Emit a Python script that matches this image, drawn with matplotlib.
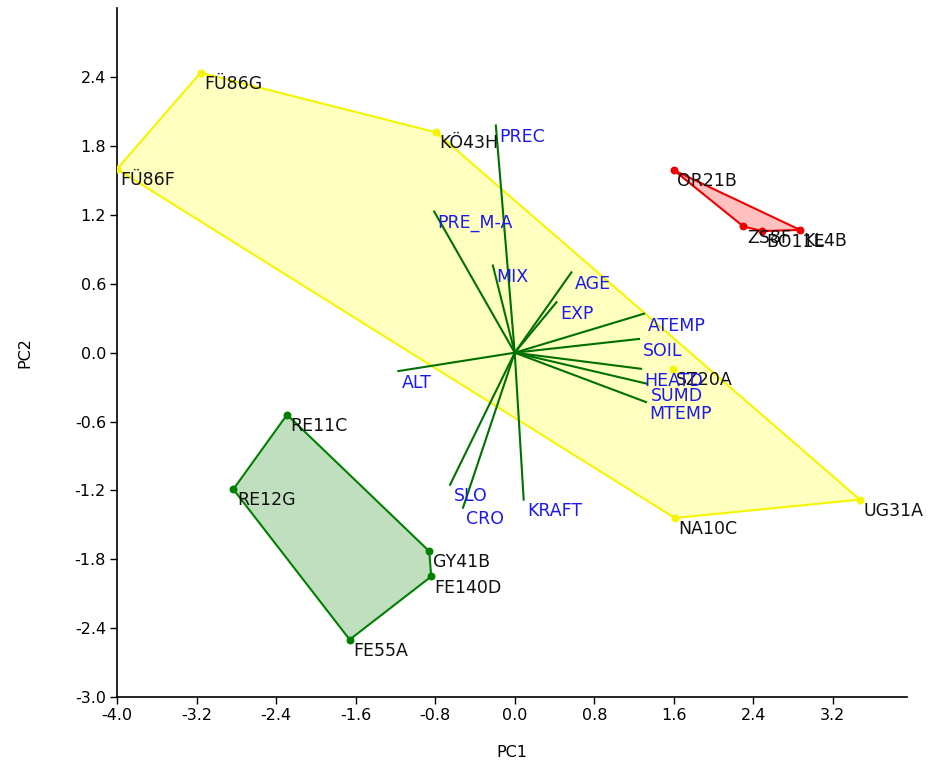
import numpy as np
import matplotlib
matplotlib.use("Agg")
import matplotlib.pyplot as plt
from matplotlib.patches import Polygon

# ---------------- data: sample scores ----------------
yellow_names = ["FÜ86F", "FÜ86G", "KÖ43H", "UG31A", "NA10C", "SZ20A"]
yellow_x = [-4.00, -3.16, -0.79, 3.47, 1.61, 1.59]
yellow_y = [1.60, 2.44, 1.92, -1.28, -1.44, -0.14]
yellow_hull = [0, 1, 2, 3, 4]

red_names = ["OR21B", "KL4B", "BO11E", "ZS8F"]
red_x = [1.60, 2.87, 2.49, 2.30]
red_y = [1.59, 1.07, 1.06, 1.10]
red_hull = [0, 1, 2, 3]

green_names = ["RE11C", "GY41B", "FE140D", "FE55A", "RE12G"]
green_x = [-2.29, -0.86, -0.84, -1.66, -2.83]
green_y = [-0.54, -1.73, -1.95, -2.50, -1.19]
green_hull = [0, 1, 2, 3, 4]

# ---------------- data: variable loadings ----------------
var_names = ["PREC", "PRE_M-A", "MIX", "AGE", "EXP", "ATEMP", "SOIL", "HEATD",
             "SUMD", "MTEMP", "ALT", "SLO", "CRO", "KRAFT"]
var_x = [-0.19, -0.81, -0.22, 0.57, 0.42, 1.30, 1.25, 1.27, 1.33, 1.32,
         -1.17, -0.65, -0.52, 0.09]
var_y = [1.98, 1.23, 0.76, 0.70, 0.44, 0.34, 0.12, -0.14, -0.27, -0.43,
         -0.16, -1.15, -1.35, -1.28]

xticks = [-4.0, -3.2, -2.4, -1.6, -0.8, 0.0, 0.8, 1.6, 2.4, 3.2]
yticks = [-3.0, -2.4, -1.8, -1.2, -0.6, 0.0, 0.6, 1.2, 1.8, 2.4]

fig = plt.figure(figsize=(9.3, 7.6), dpi=100)
ax = fig.add_axes([0.1258, 0.0829, 0.850, 0.906])


def group(names, xs, ys, hull, edge, fill):
    pts = [(xs[i], ys[i]) for i in hull]
    ax.add_patch(Polygon(pts, closed=True, facecolor=fill, edgecolor=edge,
                         lw=1.5, zorder=1))
    ax.scatter(xs, ys, s=22, color=edge, zorder=4)
    for n, x, y in zip(names, xs, ys):
        ax.annotate(n, (x, y), xytext=(2.5, -8), textcoords="offset points",
                    ha="left", va="center", fontsize=12.5, color="#111111",
                    zorder=5)


group(yellow_names, yellow_x, yellow_y, yellow_hull, "#f5f500", "#ffffbf")
group(red_names, red_x, red_y, red_hull, "#ee0000", "#ffc0c0")
group(green_names, green_x, green_y, green_hull, "#008000", "#bfdfbf")

# loadings
for n, x, y in zip(var_names, var_x, var_y):
    ax.plot([0, x], [0, y], color="#007000", lw=1.5, zorder=3)
    ax.annotate(n, (x, y), xytext=(2.5, -8.5), textcoords="offset points",
                ha="left", va="center", fontsize=12.5, color="#1a1aee",
                zorder=5)

ax.set_xlim(-4.0, 3.95)
ax.set_ylim(-3.0, 3.0)
ax.set_xticks(xticks)
ax.set_yticks(yticks)
ax.set_xticklabels([f"{t:.1f}" for t in xticks])
ax.set_yticklabels([f"{t:.1f}" for t in yticks])
ax.spines["top"].set_visible(False)
ax.spines["right"].set_visible(False)
ax.spines["left"].set_linewidth(1.2)
ax.spines["bottom"].set_linewidth(1.2)
ax.tick_params(direction="out", length=5, width=1, labelsize=11.5, pad=3)
ax.set_xlabel("PC1", fontsize=11.5, labelpad=16)
ax.set_ylabel("PC2", fontsize=11.5, labelpad=30)

fig.savefig("out.png", dpi=100)
